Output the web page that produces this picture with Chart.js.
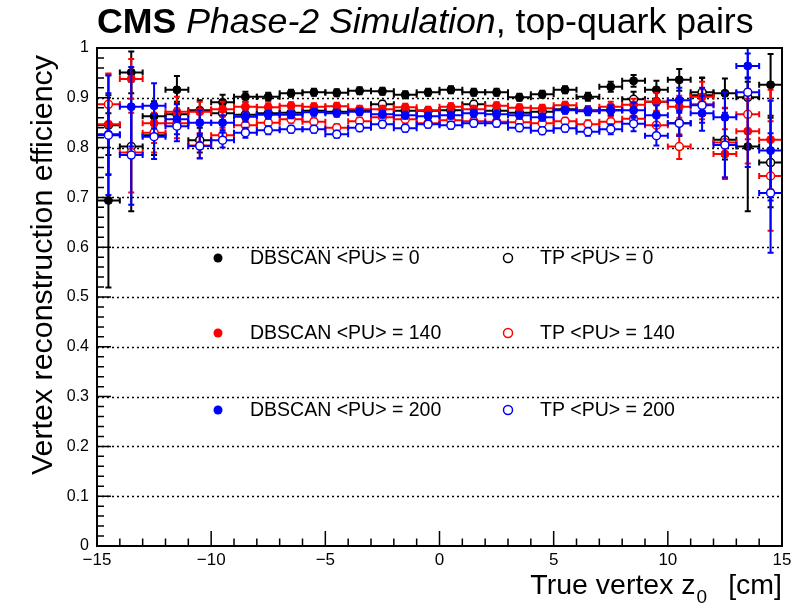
<!DOCTYPE html>
<html>
<head>
<meta charset="utf-8">
<script src="https://cdn.jsdelivr.net/npm/chart.js@4.4.1/dist/chart.umd.min.js"></script>
<style>
  html, body { margin: 0; padding: 0; background: #fff; }
  #wrap { width: 807px; height: 603px; }
</style>
</head>
<body>
<div id="wrap"><canvas id="chart" width="807" height="603"></canvas></div>
<script>
// bin centres of true vertex z0 [cm]
const zBinCenters = [-14.5, -13.5, -12.5, -11.5, -10.5, -9.5, -8.5, -7.5, -6.5, -5.5,
                     -4.5, -3.5, -2.5, -1.5, -0.5, 0.5, 1.5, 2.5, 3.5, 4.5,
                     5.5, 6.5, 7.5, 8.5, 9.5, 10.5, 11.5, 12.5, 13.5, 14.5];
const binHalfWidth = 0.5;

// efficiencies
const effDbscanPU0 = [0.694, 0.951, 0.863, 0.916, 0.875, 0.891, 0.902, 0.902, 0.909, 0.911,
                      0.910, 0.914, 0.913, 0.906, 0.911, 0.916, 0.911, 0.911, 0.901, 0.907,
                      0.916, 0.902, 0.922, 0.934, 0.916, 0.936, 0.905, 0.909, 0.802, 0.926];
const effDbscanPU140 = [0.847, 0.938, 0.849, 0.872, 0.872, 0.877, 0.882, 0.881, 0.884, 0.882,
                        0.883, 0.877, 0.877, 0.881, 0.875, 0.882, 0.877, 0.884, 0.880, 0.879,
                        0.885, 0.875, 0.882, 0.886, 0.892, 0.882, 0.902, 0.787, 0.833, 0.816];
const effDbscanPU200 = [0.827, 0.882, 0.884, 0.857, 0.850, 0.850, 0.862, 0.866, 0.866, 0.871,
                        0.869, 0.872, 0.867, 0.865, 0.863, 0.865, 0.869, 0.867, 0.865, 0.861,
                        0.875, 0.873, 0.875, 0.875, 0.865, 0.895, 0.869, 0.861, 0.964, 0.794];
const effTpPU0 = [0.845, 0.802, 0.825, 0.867, 0.815, 0.869, 0.866, 0.869, 0.870, 0.874,
                  0.872, 0.875, 0.887, 0.874, 0.874, 0.875, 0.887, 0.874, 0.870, 0.872,
                  0.877, 0.875, 0.875, 0.897, 0.892, 0.849, 0.911, 0.816, 0.901, 0.770];
const effTpPU140 = [0.887, 0.790, 0.830, 0.849, 0.804, 0.825, 0.845, 0.850, 0.857, 0.852,
                    0.840, 0.853, 0.861, 0.857, 0.849, 0.855, 0.853, 0.852, 0.851, 0.849,
                    0.853, 0.847, 0.852, 0.858, 0.845, 0.802, 0.887, 0.810, 0.867, 0.743];
const effTpPU200 = [0.825, 0.785, 0.822, 0.843, 0.803, 0.815, 0.830, 0.835, 0.837, 0.837,
                    0.827, 0.840, 0.847, 0.839, 0.847, 0.845, 0.849, 0.849, 0.840, 0.834,
                    0.839, 0.832, 0.837, 0.848, 0.824, 0.849, 0.885, 0.805, 0.911, 0.709];

// vertical error bars
const errDbscanPU0 = [0.175, 0.042, 0.03, 0.028, 0.02, 0.015, 0.01, 0.008,
                      0.007, 0.007, 0.007, 0.007, 0.007, 0.007, 0.007, 0.007, 0.007, 0.007, 0.007, 0.007, 0.007,
                      0.008, 0.01, 0.012, 0.018, 0.022, 0.035, 0.03, 0.13, 0.062];
const errDbscanPU140 = [0.1, 0.04, 0.04, 0.03, 0.02, 0.015, 0.01, 0.008,
                        0.007, 0.007, 0.007, 0.007, 0.007, 0.007, 0.007, 0.007, 0.007, 0.007, 0.007, 0.007, 0.007,
                        0.008, 0.01, 0.012, 0.018, 0.022, 0.03, 0.05, 0.065, 0.1];
const errDbscanPU200 = [0.082, 0.08, 0.045, 0.03, 0.025, 0.015, 0.01, 0.008,
                        0.007, 0.007, 0.007, 0.007, 0.007, 0.007, 0.007, 0.007, 0.007, 0.007, 0.007, 0.007, 0.007,
                        0.008, 0.01, 0.015, 0.02, 0.025, 0.035, 0.05, 0.025, 0.1];
const errTpPU0 = [0.06, 0.13, 0.04, 0.025, 0.025, 0.015, 0.01, 0.008,
                  0.007, 0.007, 0.007, 0.007, 0.007, 0.007, 0.007, 0.007, 0.007, 0.007, 0.007, 0.007, 0.007,
                  0.008, 0.01, 0.015, 0.02, 0.025, 0.03, 0.04, 0.04, 0.09];
const errTpPU140 = [0.062, 0.08, 0.04, 0.03, 0.025, 0.015, 0.01, 0.008,
                    0.007, 0.007, 0.007, 0.007, 0.007, 0.007, 0.007, 0.007, 0.007, 0.007, 0.007, 0.007, 0.007,
                    0.008, 0.01, 0.015, 0.02, 0.025, 0.03, 0.07, 0.05, 0.11];
const errTpPU200 = [0.12, 0.1, 0.045, 0.03, 0.025, 0.015, 0.01, 0.008,
                    0.007, 0.007, 0.007, 0.007, 0.007, 0.007, 0.007, 0.007, 0.007, 0.007, 0.007, 0.007, 0.007,
                    0.008, 0.01, 0.015, 0.02, 0.025, 0.035, 0.065, 0.15, 0.12];

const FONT = '"Liberation Sans", Arial, Helvetica, sans-serif';

function makeSet(label, vals, errs, color, open, order) {
    return {
        label: label,
        data: zBinCenters.map((z, i) => ({ x: z, y: vals[i] })),
        errY: errs,
        borderColor: color,
        backgroundColor: open ? '#fff' : color,
        pointRadius: 4,
        pointBorderWidth: open ? 1.5 : 1,
        pointStyle: 'circle',
        showLine: false,
        open: open,
        order: order
    };
}

// left column DBSCAN, right column TP
const datasets = [
    makeSet('DBSCAN <PU> = 0', effDbscanPU0, errDbscanPU0, '#000000', false, 6),
    makeSet('DBSCAN <PU> = 140', effDbscanPU140, errDbscanPU140, '#ff0000', false, 4),
    makeSet('DBSCAN <PU> = 200', effDbscanPU200, errDbscanPU200, '#0000ff', false, 2),
    makeSet('TP <PU> = 0', effTpPU0, errTpPU0, '#000000', true, 5),
    makeSet('TP <PU> = 140', effTpPU140, errTpPU140, '#ff0000', true, 3),
    makeSet('TP <PU> = 200', effTpPU200, errTpPU200, '#0000ff', true, 1)
];

// error bars, drawn just before each dataset's markers
const errorBars = {
    id: 'errorBars',
    beforeDatasetDraw(chart, args) {
        const ds = chart.data.datasets[args.index];
        const xs = chart.scales.x, ys = chart.scales.y, ca = chart.chartArea;
        const ctx = chart.ctx;
        ctx.save();
        ctx.beginPath();
        ctx.rect(ca.left, ca.top, ca.right - ca.left, ca.bottom - ca.top);
        ctx.clip();
        ctx.strokeStyle = ds.borderColor;
        ctx.lineWidth = 2;
        ds.data.forEach((p, i) => {
            const px = xs.getPixelForValue(p.x);
            const py = ys.getPixelForValue(p.y);
            const x0 = xs.getPixelForValue(p.x - binHalfWidth);
            const x1 = xs.getPixelForValue(p.x + binHalfWidth);
            const y0 = ys.getPixelForValue(p.y + ds.errY[i]);
            const y1 = ys.getPixelForValue(p.y - ds.errY[i]);
            ctx.beginPath();
            ctx.moveTo(x0, py); ctx.lineTo(x1, py);
            ctx.moveTo(x0, py - 3); ctx.lineTo(x0, py + 3);
            ctx.moveTo(x1, py - 3); ctx.lineTo(x1, py + 3);
            ctx.moveTo(px, y0); ctx.lineTo(px, y1);
            ctx.moveTo(px - 3, y0); ctx.lineTo(px + 3, y0);
            ctx.moveTo(px - 3, y1); ctx.lineTo(px + 3, y1);
            ctx.stroke();
        });
        ctx.restore();
    }
};

// dotted horizontal grid at major y ticks
const dottedGrid = {
    id: 'dottedGrid',
    beforeDatasetsDraw(chart) {
        const ctx = chart.ctx, ca = chart.chartArea, ys = chart.scales.y;
        ctx.save();
        ctx.strokeStyle = '#000';
        ctx.lineWidth = 1.5;
        ctx.setLineDash([2, 3]);
        ys.ticks.forEach(t => {
            if (t.value <= 0 || t.value >= 1) return;
            const y = Math.round(ys.getPixelForValue(t.value)) + 0.5;
            ctx.beginPath();
            ctx.moveTo(ca.left, y);
            ctx.lineTo(ca.right, y);
            ctx.stroke();
        });
        ctx.restore();
    }
};

// frame, ticks, titles, legend
const decorations = {
    id: 'decorations',
    afterDraw(chart) {
        const ctx = chart.ctx, ca = chart.chartArea;
        const xs = chart.scales.x, ys = chart.scales.y;
        ctx.save();
        ctx.strokeStyle = '#000';
        ctx.lineWidth = 2;
        ctx.strokeRect(ca.left, ca.top, ca.right - ca.left, ca.bottom - ca.top);

        ctx.lineWidth = 1.5;
        ctx.beginPath();
        for (let i = 0; i <= 50; i++) {
            const y = ys.getPixelForValue(i * 0.02);
            const len = i % 5 === 0 ? 14 : 7;
            ctx.moveTo(ca.left, y); ctx.lineTo(ca.left + len, y);
        }
        for (let v = -15; v <= 15; v++) {
            const x = xs.getPixelForValue(v);
            const len = v % 5 === 0 ? 15 : 7.5;
            ctx.moveTo(x, ca.bottom); ctx.lineTo(x, ca.bottom - len);
        }
        ctx.stroke();

        // header
        ctx.fillStyle = '#000';
        ctx.textBaseline = 'alphabetic';
        ctx.textAlign = 'left';
        let x = 97;
        const hy = 33;
        ctx.font = 'bold 35.7px ' + FONT;
        ctx.fillText('CMS', x, hy);
        x += ctx.measureText('CMS ').width;
        ctx.font = 'italic 35.7px ' + FONT;
        ctx.fillText('Phase-2 Simulation', x, hy);
        x += ctx.measureText('Phase-2 Simulation').width;
        ctx.font = '35.7px ' + FONT;
        ctx.fillText(', top-quark pairs', x, hy);

        // y title
        ctx.save();
        ctx.translate(52, 55);
        ctx.rotate(-Math.PI / 2);
        ctx.textAlign = 'right';
        ctx.font = '30.4px ' + FONT;
        ctx.fillText('Vertex reconstruction efficiency', 0, 0);
        ctx.restore();

        // x title
        ctx.font = '28.5px ' + FONT;
        const partA = 'True vertex z', partC = '[cm]';
        const wA = ctx.measureText(partA).width, wC = ctx.measureText(partC).width;
        const gap = 22;
        ctx.font = '19px ' + FONT;
        const wB = ctx.measureText('0').width;
        let tx = ca.right - (wA + wB + gap + wC);
        const ty = 594;
        ctx.font = '28.5px ' + FONT;
        ctx.fillText(partA, tx, ty);
        tx += wA;
        ctx.font = '19px ' + FONT;
        ctx.fillText('0', tx + 1, ty + 9);
        tx += wB + gap;
        ctx.font = '28.5px ' + FONT;
        ctx.fillText(partC, tx, ty);

        // legend: two columns, three rows
        const colMarker = [218, 508], colText = [250, 540], rowY = [258, 333, 410];
        ctx.font = '19.5px ' + FONT;
        ctx.textBaseline = 'middle';
        chart.data.datasets.forEach((ds, i) => {
            const c = ds.open ? 1 : 0, r = i % 3;
            ctx.beginPath();
            ctx.arc(colMarker[c], rowY[r], 4.5, 0, Math.PI * 2);
            if (ds.open) {
                ctx.lineWidth = 1.5;
                ctx.strokeStyle = ds.borderColor;
                ctx.stroke();
            } else {
                ctx.fillStyle = ds.borderColor;
                ctx.fill();
            }
            ctx.fillStyle = '#000';
            ctx.fillText(ds.label, colText[c], rowY[r] + 1);
        });
        ctx.restore();
    }
};

new Chart(document.getElementById('chart'), {
    type: 'scatter',
    data: { datasets: datasets },
    options: {
        responsive: false,
        animation: false,
        layout: { padding: { left: 0, right: 25, top: 48, bottom: 0 } },
        plugins: { legend: { display: false }, tooltip: { enabled: false } },
        scales: {
            x: {
                type: 'linear', min: -15, max: 15,
                grid: { display: false, drawTicks: false },
                border: { display: false },
                ticks: {
                    stepSize: 5, padding: 4, autoSkip: false, maxRotation: 0,
                    color: '#000', font: { family: FONT, size: 17 },
                    callback: v => v < 0 ? '\u2212' + (-v) : String(v)
                },
                afterFit: s => { s.height = 57; }
            },
            y: {
                min: 0, max: 1,
                grid: { display: false, drawTicks: false },
                border: { display: false },
                ticks: {
                    stepSize: 0.1, padding: 8, color: '#000', font: { family: FONT, size: 16 },
                    callback: v => {
                        const r = Math.round(v * 10) / 10;
                        return (r === 0 || r === 1) ? String(r) : r.toFixed(1);
                    }
                },
                afterFit: s => { s.width = 97; }
            }
        }
    },
    plugins: [errorBars, dottedGrid, decorations]
});
</script>
</body>
</html>
